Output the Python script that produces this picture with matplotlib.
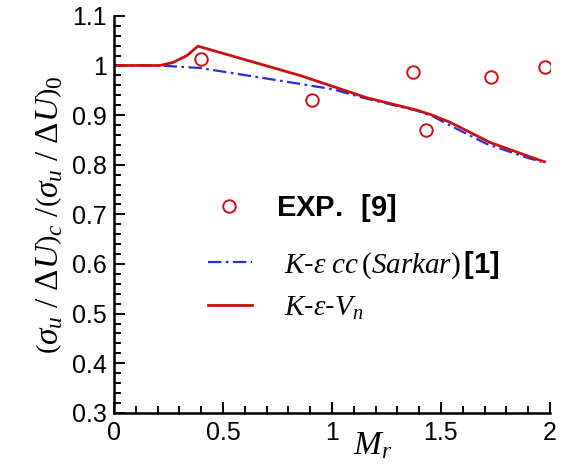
import matplotlib
matplotlib.use("Agg")
import matplotlib.pyplot as plt
from matplotlib.ticker import MultipleLocator
from matplotlib.lines import Line2D

plt.rcParams['font.family'] = ['Liberation Sans', 'DejaVu Sans']
plt.rcParams['mathtext.fontset'] = 'custom'
plt.rcParams['mathtext.rm'] = 'Liberation Serif'
plt.rcParams['mathtext.it'] = 'Liberation Serif:italic'
plt.rcParams['mathtext.bf'] = 'Liberation Sans:bold'

# Experimental data
exp_x = [0.40, 0.91, 1.37, 1.43, 1.728, 1.977]
exp_y = [1.014, 0.931, 0.987, 0.870, 0.976, 0.997]

# K-eps cc (Sarkar)
cc_x = [0.0, 0.21, 0.395, 0.853, 1.005, 1.16, 1.39, 1.465, 1.556, 1.71, 1.89, 1.96]
cc_y = [1.0, 1.0, 0.995, 0.963, 0.952, 0.933, 0.909, 0.897, 0.876, 0.842, 0.815, 0.806]

# K-eps-Vn
vn_x = [0.0, 0.21, 0.27, 0.335, 0.385, 0.853, 1.16, 1.39, 1.46, 1.54, 1.725, 1.96, 1.975]
vn_y = [1.0, 1.0, 1.006, 1.020, 1.039, 0.980, 0.935, 0.910, 0.900, 0.886, 0.845, 0.808, 0.806]

fig = plt.figure(figsize=(5.64, 4.67), dpi=100)
ax = fig.add_axes([0.202, 0.116, 0.773, 0.850])

ax.plot(cc_x, cc_y, color='#2030e0', lw=1.6, ls='-.', dashes=(6, 2, 1.2, 2))
ax.plot(vn_x, vn_y, color='#cc1010', lw=2.0)
ax.plot(exp_x, exp_y, ls='none', marker='o', ms=9, mfc='none', mec='#cc1010', mew=1.4)

ax.set_xlim(0, 2)
ax.set_ylim(0.3, 1.1)
ax.xaxis.set_minor_locator(MultipleLocator(0.1))
ax.yaxis.set_minor_locator(MultipleLocator(0.02))
ax.set_xticks([0, 0.5, 1, 1.5, 2])
ax.set_xticklabels(['0', '0.5', '1', '1.5', '2'])
ax.set_yticks([0.3, 0.4, 0.5, 0.6, 0.7, 0.8, 0.9, 1.0, 1.1])
ax.set_yticklabels(['0.3', '0.4', '0.5', '0.6', '0.7', '0.8', '0.9', '1', '1.1'])

for s in ['top', 'right']:
    ax.spines[s].set_visible(False)
for s in ['left', 'bottom']:
    ax.spines[s].set_linewidth(1.8)
ax.tick_params(which='both', direction='in', width=1.4, labelsize=18)
ax.tick_params(axis='y', pad=5)
ax.tick_params(axis='x', pad=6)
ax.tick_params(which='major', length=8)
ax.tick_params(which='minor', length=5)

ax.set_xlabel(r'$M_r$', fontsize=24)
ax.xaxis.set_label_coords(0.594, -0.045)
ax.set_ylabel(r'$\left(\sigma_u\ /\ \Delta U\right)_c\ /\left(\sigma_u\ /\ \Delta U\right)_0$', fontsize=24)
ax.yaxis.set_label_coords(-0.112, 0.5)

h_exp = [Line2D([], [], ls='none', marker='o', ms=9, mfc='none', mec='#cc1010', mew=1.4)]
leg1 = ax.legend(h_exp, [r'$\mathbf{EXP.\ \ [9]}$'], loc='center left',
                 bbox_to_anchor=(0.211, 0.516), frameon=False, fontsize=21,
                 handlelength=1.6, handletextpad=0.8, borderpad=0, borderaxespad=0)
ax.add_artist(leg1)
h_lines = [Line2D([], [], color='#2030e0', lw=1.6, ls='-.', dashes=(6, 2, 1.2, 2)),
           Line2D([], [], color='#cc1010', lw=2.0)]
ax.legend(h_lines, [r'$K$-$\varepsilon\ cc\,(Sarkar)\,\mathbf{[1]}$', r'$K$-$\varepsilon$-$V_n$'],
          loc='center left', bbox_to_anchor=(0.216, 0.321), frameon=False, fontsize=21,
          handlelength=1.5, handletextpad=1.1, labelspacing=0.45, borderpad=0, borderaxespad=0)

fig.savefig('out.png', dpi=100)
